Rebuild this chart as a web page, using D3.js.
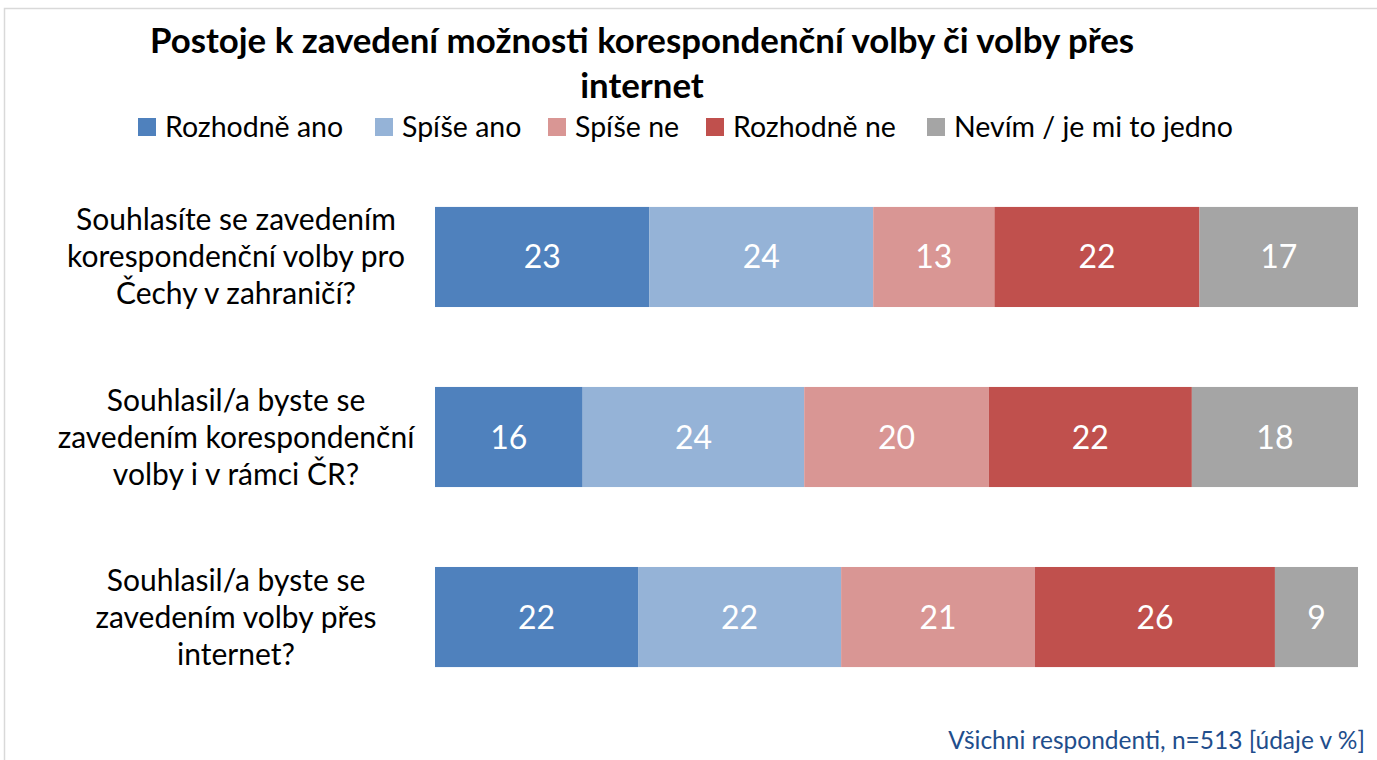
<!DOCTYPE html>
<html>
<head>
<meta charset="utf-8">
<script src="https://cdn.jsdelivr.net/npm/d3@7"></script>
<style>
  body { margin: 0; background: #fff; }
  text { font-family: Lato, "Open Sans", sans-serif; }
</style>
</head>
<body>
<svg id="chart" width="1377" height="760"></svg>
<script>
// data
var questions = [
  "Souhlasíte se zavedením|korespondenční volby pro|Čechy v zahraničí?",
  "Souhlasil/a byste se|zavedením korespondenční|volby i v rámci ČR?",
  "Souhlasil/a byste se|zavedením volby přes|internet?"
];
var answers = ["Rozhodně ano", "Spíše ano", "Spíše ne", "Rozhodně ne", "Nevím / je mi to jedno"];
var rozhodneAno = [23, 16, 22];
var spiseAno    = [24, 24, 22];
var spiseNe     = [13, 20, 21];
var rozhodneNe  = [22, 22, 26];
var nevim       = [17, 18, 9];
var colors = ["#4F81BD", "#95B3D7", "#D99694", "#C0504D", "#A5A5A5"];

var series = [rozhodneAno, spiseAno, spiseNe, rozhodneNe, nevim];
var rows = questions.map(function(q, i) {
  var o = { q: q };
  answers.forEach(function(a, j) { o[a] = series[j][i]; });
  return o;
});

var svg = d3.select("#chart");

// outer border (chart area frame)
svg.append("rect")
  .attr("x", 4.5).attr("y", 8.5)
  .attr("width", 1400).attr("height", 800)
  .attr("fill", "none")
  .attr("stroke", "#d9d9d9")
  .attr("stroke-width", 1.5);

// title
var title = svg.append("text")
  .attr("text-anchor", "middle")
  .attr("font-weight", "bold")
  .attr("font-size", 34.8)
  .attr("fill", "#000");
title.append("tspan").attr("x", 642).attr("y", 53).text("Postoje k zavedení možnosti korespondenční volby či volby přes");
title.append("tspan").attr("x", 642).attr("y", 98).text("internet");

var x = d3.scaleLinear().domain([0, 1]).range([435, 1358]);
var y = d3.scaleBand().domain(questions).range([127, 747]).paddingInner(0.444).paddingOuter(0.444);

var stack = d3.stack().keys(answers).offset(d3.stackOffsetExpand);
var stacked = stack(rows);

var groups = svg.selectAll(".serie")
  .data(stacked)
  .enter().append("g")
  .attr("class", "serie")
  .attr("fill", function(d, i) { return colors[i]; });

groups.selectAll("rect")
  .data(function(d) { return d; })
  .enter().append("rect")
  .attr("x", function(d) { return x(d[0]); })
  .attr("y", function(d) { return y(d.data.q); })
  .attr("width", function(d) { return x(d[1]) - x(d[0]); })
  .attr("height", y.bandwidth());

groups.selectAll("text")
  .data(function(d) { return d.map(function(p) { p.key = d.key; return p; }); })
  .enter().append("text")
  .attr("x", function(d) { return (x(d[0]) + x(d[1])) / 2; })
  .attr("y", function(d) { return y(d.data.q) + y.bandwidth() / 2; })
  .attr("dy", "0.36em")
  .attr("text-anchor", "middle")
  .attr("font-size", 32)
  .attr("fill", "#fff")
  .text(function(d) { return d.data[d.key]; });

// category labels
svg.selectAll(".cat")
  .data(questions)
  .enter().append("text")
  .attr("class", "cat")
  .attr("text-anchor", "middle")
  .attr("font-size", 30)
  .attr("fill", "#000")
  .each(function(q) {
    var lines = q.split("|");
    var cy = y(q) + y.bandwidth() / 2;
    var t = d3.select(this);
    lines.forEach(function(l, i) {
      t.append("tspan")
        .attr("x", 236)
        .attr("y", cy + (i - (lines.length - 1) / 2) * 37)
        .attr("dy", "0.35em")
        .text(l);
    });
  });

// legend
var legendX = [138, 375, 548, 706, 927];
var legend = svg.selectAll(".leg")
  .data(answers)
  .enter().append("g")
  .attr("class", "leg")
  .attr("transform", function(d, i) { return "translate(" + legendX[i] + ",127)"; });
legend.append("rect")
  .attr("x", 0).attr("y", -9)
  .attr("width", 18).attr("height", 18)
  .attr("fill", function(d, i) { return colors[i]; });
legend.append("text")
  .attr("x", 27)
  .attr("dy", "0.36em")
  .attr("font-size", 28.5)
  .attr("fill", "#000")
  .text(function(d) { return d; });

// note
svg.append("text")
  .attr("x", 1365).attr("y", 749)
  .attr("text-anchor", "end")
  .attr("font-size", 24.5)
  .attr("fill", "#1F4E8C")
  .text("Všichni respondenti, n=513 [údaje v %]");
</script>
</body>
</html>
